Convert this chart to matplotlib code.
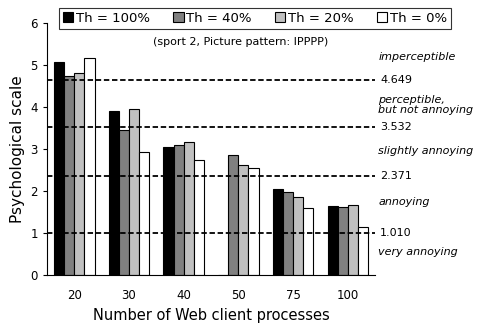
import numpy as np
import matplotlib.pyplot as plt
from matplotlib.patches import Patch

# Psychological scale per threshold, grouped by number of Web client processes
processes = ['20', '30', '40', '50', '75', '100']
th_labels = ['Th = 100%', 'Th = 40%', 'Th = 20%', 'Th = 0%']
th100 = [5.07, 3.90, 3.05, 0.0, 2.04, 1.64]
th40 = [4.74, 3.45, 3.10, 2.87, 1.98, 1.61]
th20 = [4.81, 3.95, 3.17, 2.63, 1.86, 1.68]
th0 = [5.18, 2.93, 2.75, 2.56, 1.59, 1.14]

# Category boundaries of the scale and their names
bounds = [4.649, 3.532, 2.371, 1.010]
bound_labels = ['4.649', '3.532', '2.371', '1.010']
categories = ['imperceptible', 'perceptible,\nbut not annoying', 'slightly annoying',
              'annoying', 'very annoying']
category_pos = [5.2, 4.05, 2.95, 1.75, 0.55]

colors = ['black', '#808080', '#c0c0c0', 'white']
series = [th100, th40, th20, th0]

fig = plt.figure(figsize=(4.84, 3.31), dpi=100)
ax = fig.add_axes([0.097, 0.169, 0.678, 0.761])

x = np.arange(len(processes))
w = 0.185
for i, (vals, c) in enumerate(zip(series, colors)):
    ax.bar(x + (i - 1.5) * w, vals, w, color=c, edgecolor='black', linewidth=0.8, zorder=2)

for b, lbl in zip(bounds, bound_labels):
    ax.axhline(b, color='black', linestyle=(0, (3, 1.5)), linewidth=1.3, zorder=3)
    ax.text(1.015, b, lbl, transform=ax.get_yaxis_transform(), va='center', ha='left', fontsize=8)

for name, pos in zip(categories, category_pos):
    ax.text(1.01, pos, name, transform=ax.get_yaxis_transform(), va='center', ha='left',
            fontsize=8, style='italic', linespacing=1.1)

ax.set_xlim(-0.5, len(processes) - 0.5)
ax.set_ylim(0, 6)
ax.set_yticks(range(7))
ax.set_xticks(x)
ax.set_xticklabels(processes)
ax.tick_params(axis='x', length=0, pad=10, labelsize=8.5)
ax.tick_params(axis='y', length=3, labelsize=8.5, direction='out')
ax.spines['top'].set_visible(False)
ax.spines['right'].set_visible(False)
ax.set_ylabel('Psychological scale', fontsize=11)
ax.set_xlabel('Number of Web client processes', fontsize=10.5)

ax.text(0.59, 0.925, '(sport 2, Picture pattern: IPPPP)', transform=ax.transAxes,
        ha='center', va='center', fontsize=8)

handles = [Patch(facecolor=c, edgecolor='black', linewidth=0.8) for c in colors]
leg = fig.legend(handles, th_labels, ncol=4, loc='upper left', bbox_to_anchor=(0.108, 0.997),
                 frameon=True, fancybox=False, edgecolor='black', fontsize=9.5,
                 handlelength=0.8, handleheight=0.8, handletextpad=0.2, columnspacing=1.75,
                 borderpad=0.3)
leg.get_frame().set_linewidth(0.8)

fig.savefig('out.png', dpi=100)
